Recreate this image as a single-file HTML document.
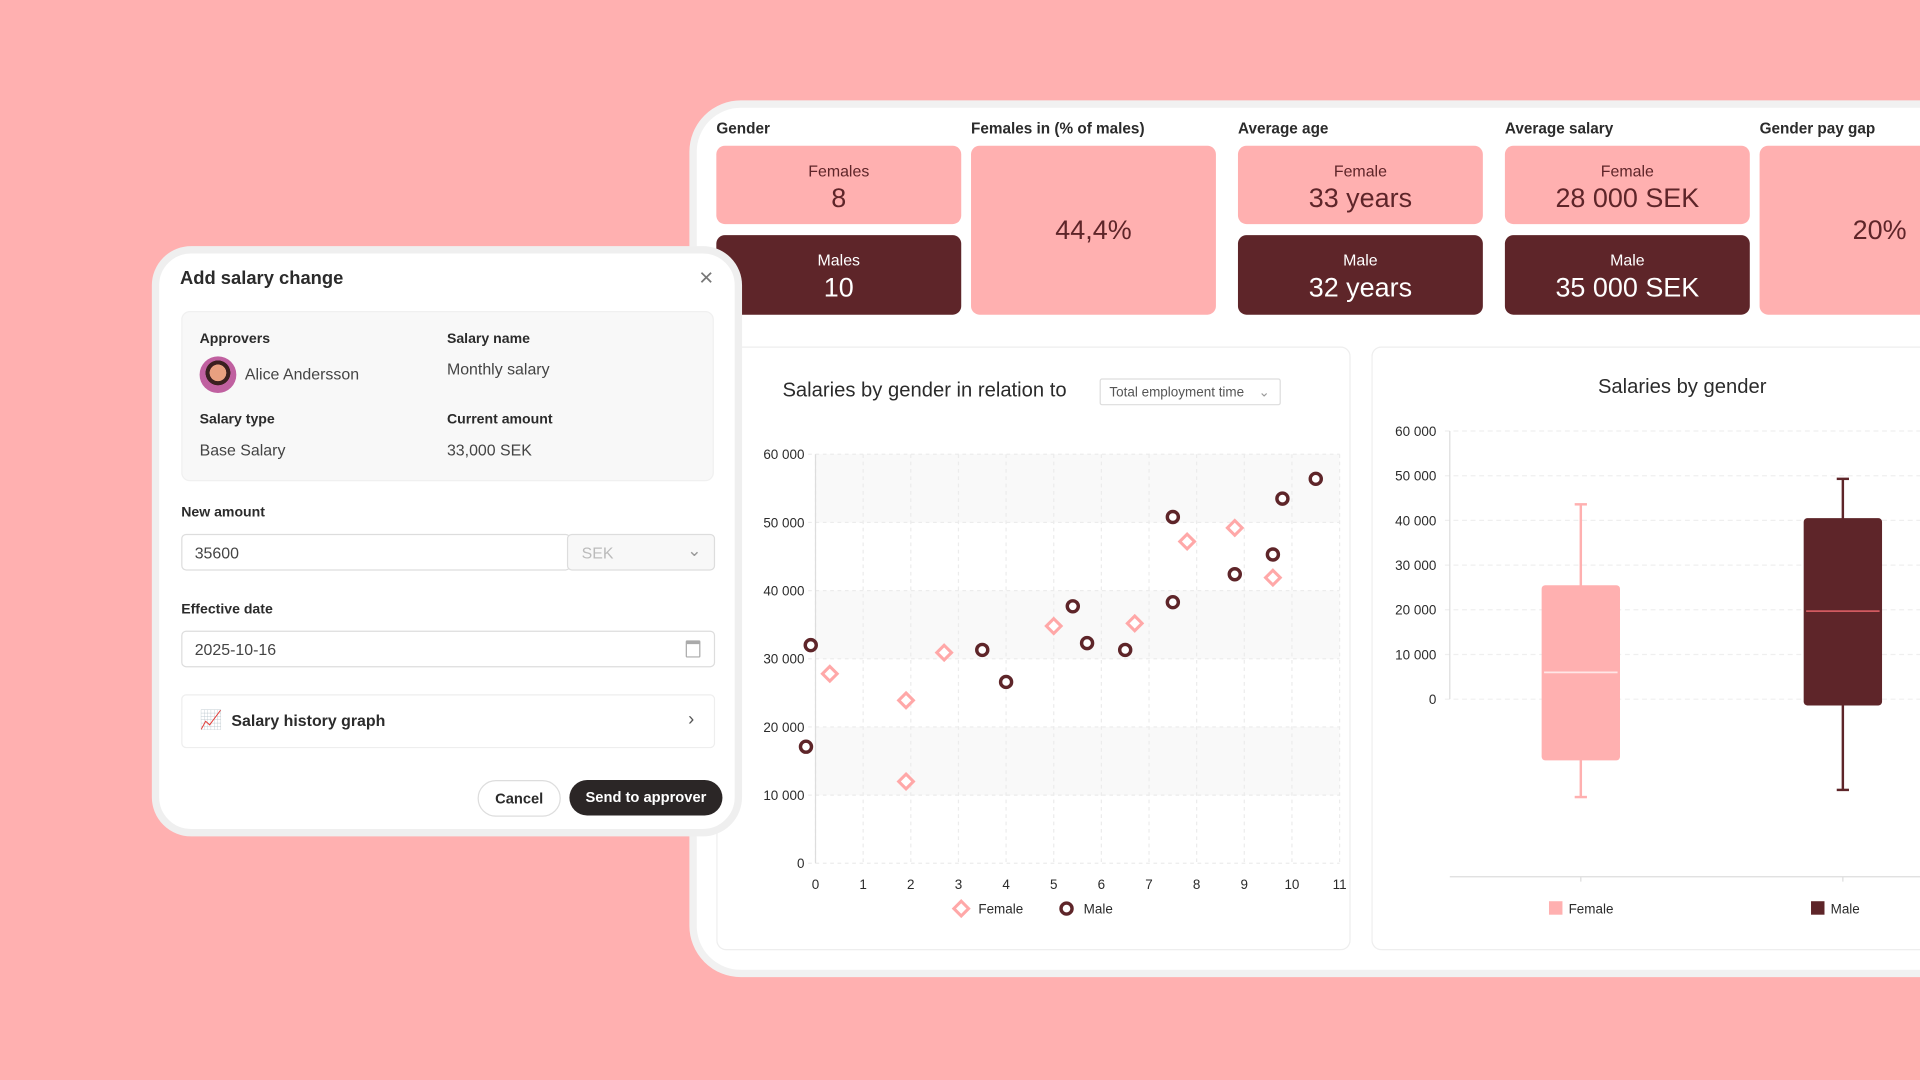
<!DOCTYPE html>
<html><head><meta charset="utf-8">
<style>
html,body{margin:0;padding:0;width:1920px;height:1080px;overflow:hidden;background:#ffb0b0;font-family:"Liberation Sans",sans-serif;}
#wrap{position:absolute;left:0;top:0;width:1568px;height:882px;transform:scale(1.22449);transform-origin:0 0;}
.abs{position:absolute;}
.hdr{position:absolute;top:98px;font-size:12.5px;font-weight:bold;color:#2b2b2b;}
.card{position:absolute;border-radius:7px;text-align:center;}
.pk{background:#ffb0b0;color:#5e2529;}
.dk{background:#5e2529;color:#fff;}
.card .l{font-size:13px;margin-top:13px;}
.card .v{font-size:22px;margin-top:2px;}
.lbl{position:absolute;font-size:11.5px;font-weight:bold;color:#2b2b2b;}
.val{position:absolute;font-size:13px;color:#444;}
.inp{position:absolute;border:1px solid #ddd;border-radius:4px;background:#fff;}
</style></head><body>
<div id="wrap">
<div class="abs" style="left:563px;top:82px;width:1060px;height:704px;background:#fff;border:6px solid #f1f1f1;border-radius:42px;"></div>
<div class="hdr" style="left:585px;">Gender</div>
<div class="hdr" style="left:793px;">Females in (% of males)</div>
<div class="hdr" style="left:1011px;">Average age</div>
<div class="hdr" style="left:1229px;">Average salary</div>
<div class="hdr" style="left:1437px;">Gender pay gap</div>

<div class="card pk" style="left:585px;top:119px;width:200px;height:64px;"><div class="l">Females</div><div class="v">8</div></div>
<div class="card dk" style="left:585px;top:192px;width:200px;height:65px;"><div class="l">Males</div><div class="v">10</div></div>
<div class="card pk" style="left:793px;top:119px;width:200px;height:138px;"><div class="v" style="margin-top:56px;">44,4%</div></div>
<div class="card pk" style="left:1011px;top:119px;width:200px;height:64px;"><div class="l">Female</div><div class="v">33 years</div></div>
<div class="card dk" style="left:1011px;top:192px;width:200px;height:65px;"><div class="l">Male</div><div class="v">32 years</div></div>
<div class="card pk" style="left:1229px;top:119px;width:200px;height:64px;"><div class="l">Female</div><div class="v">28 000 SEK</div></div>
<div class="card dk" style="left:1229px;top:192px;width:200px;height:65px;"><div class="l">Male</div><div class="v">35 000 SEK</div></div>
<div class="card pk" style="left:1437px;top:119px;width:200px;height:138px;text-align:left;"><div class="v" style="margin-top:56px;margin-left:76px;">20%</div></div>

<div class="abs" style="left:585px;top:283px;width:516px;height:491px;border:1px solid #eee;border-radius:8px;"></div>
<div class="abs" style="left:1120px;top:283px;width:500px;height:491px;border:1px solid #eee;border-radius:8px;"></div>
<div class="abs" style="left:639px;top:310px;font-size:16.5px;color:#2b2b2b;">Salaries by gender in relation to</div>
<div class="abs" style="left:898px;top:309px;width:148px;height:22px;border:1px solid #ddd;border-radius:2px;font-size:11px;color:#555;line-height:22px;padding-left:7px;box-sizing:border-box;">Total employment time <span style="position:absolute;right:8px;color:#999;">&#8964;</span></div>
<div class="abs" style="left:1305px;top:307px;font-size:16.5px;color:#2b2b2b;">Salaries by gender</div>

<svg id="chart" class="abs" style="left:0;top:0;" width="1568" height="882"></svg>

<div class="abs" style="left:124px;top:201px;width:470px;height:470px;background:#fff;border:6px solid #efefef;border-radius:32px;"></div>
<div class="abs" style="left:147px;top:219px;font-size:15px;font-weight:bold;color:#2b2b2b;">Add salary change</div>
<div class="abs" style="left:571px;top:216px;font-size:20px;color:#777;">&#215;</div>
<div class="abs" style="left:148px;top:254px;width:435px;height:139px;background:#f8f8f8;border-radius:7px;border:1px solid #f0f0f0;box-sizing:border-box;"></div>
<div class="lbl" style="left:163px;top:271px;">Approvers</div>
<div class="abs" style="left:163px;top:291px;width:30px;height:30px;border-radius:50%;background:radial-gradient(circle at 50% 45%,#e8a080 0 30%,#3a2020 31% 45%,#c060a0 46%);"></div>
<div class="val" style="left:200px;top:298px;">Alice Andersson</div>
<div class="lbl" style="left:365px;top:271px;">Salary name</div>
<div class="val" style="left:365px;top:294px;">Monthly salary</div>
<div class="lbl" style="left:163px;top:337px;">Salary type</div>
<div class="val" style="left:163px;top:360px;">Base Salary</div>
<div class="lbl" style="left:365px;top:337px;">Current amount</div>
<div class="val" style="left:365px;top:360px;">33,000 SEK</div>
<div class="lbl" style="left:148px;top:413px;">New amount</div>
<div class="inp" style="left:148px;top:436px;width:316px;height:28px;"><span class="val" style="left:10px;top:7px;">35600</span></div>
<div class="inp" style="left:463px;top:436px;width:119px;height:28px;background:#f8f8f8;"><span class="val" style="left:11px;top:7px;color:#bbb;">SEK</span><span class="abs" style="right:10px;top:4px;color:#999;font-size:14px;">&#8964;</span></div>
<div class="lbl" style="left:148px;top:492px;">Effective date</div>
<div class="inp" style="left:148px;top:515px;width:434px;height:28px;"><span class="val" style="left:10px;top:7px;">2025-10-16</span><span class="abs" style="right:11px;top:7px;width:10px;height:10px;border:1px solid #aaa;border-top-width:3px;border-radius:1px;"></span></div>
<div class="inp" style="left:148px;top:567px;width:434px;height:42px;border-color:#eee;"><span class="abs" style="left:14px;top:11px;font-size:15px;color:#c04060;">&#128200;</span><span class="abs" style="left:40px;top:13px;font-size:13px;font-weight:bold;color:#2b2b2b;">Salary history graph</span><span class="abs" style="right:16px;top:11px;font-size:15px;color:#555;">&#8250;</span></div>
<div class="abs" style="left:390px;top:637px;width:66px;height:28px;border:1px solid #ddd;border-radius:15px;font-size:12px;font-weight:bold;color:#2b2b2b;text-align:center;line-height:28px;">Cancel</div>
<div class="abs" style="left:465px;top:637px;width:125px;height:29px;background:#2b2626;border-radius:15px;font-size:12px;font-weight:bold;color:#fff;text-align:center;line-height:29px;">Send to approver</div>
</div>

<script>
const maleX = [-0.1, -0.2, 3.5, 4.0, 5.4, 5.7, 6.5, 7.5, 7.5, 8.8, 9.8, 9.6, 10.5];
const maleY = [32000, 17100, 31300, 26600, 37700, 32300, 31300, 50800, 38300, 42400, 53500, 45300, 56400];
const femaleX = [0.3, 1.9, 1.9, 2.7, 5.0, 6.7, 7.8, 8.8, 9.6];
const femaleY = [27800, 23900, 12000, 30900, 34800, 35200, 47200, 49200, 41900];
const xTicks = [0,1,2,3,4,5,6,7,8,9,10,11];
const yTicks = [0,10000,20000,30000,40000,50000,60000];
const boxGroups = ["Female","Male"];
const boxMin = [-21900, -20300];
const boxQ1 = [-13700, -1400];
const boxMedian = [6000, 19700];
const boxQ3 = [25500, 40500];
const boxMax = [43600, 49300];
const boxColors = ["#ffb0b0","#5e2529"];
const boxMedColors = ["#ffe6e6","#d05a60"];

const svg = document.getElementById('chart');
const NS = 'http://www.w3.org/2000/svg';
function mk(tag, attrs, parent){const e=document.createElementNS(NS,tag);for(const k in attrs)e.setAttribute(k,attrs[k]);(parent||svg).appendChild(e);return e;}
const fmt = v => v===0?'0':(v/1000)+' 000';

const sx = v => 666 + v*(1094-666)/11;
const sy = v => 705 - v*(705-371)/60000;
for(let i=0;i<yTicks.length-1;i++){
  if(i%2===1){ const b=mk('rect',{x:666,y:sy(yTicks[i+1]),width:sx(11)-666,height:sy(yTicks[i])-sy(yTicks[i+1]),fill:'#f9f9f9'});
  
   }
}
xTicks.forEach(t=>{
  const g=mk('line',{x1:sx(t),x2:sx(t),y1:sy(60000),y2:705,stroke:'#ececec','stroke-dasharray':'3,3'});
  
  
  const l=mk('text',{x:sx(t),y:726,'font-size':11,'text-anchor':'middle',fill:'#2b2b2b','font-family':'Liberation Sans'});
  l.textContent=t;
  
  
});
yTicks.forEach(t=>{
  const g=mk('line',{x1:660,x2:sx(11),y1:sy(t),y2:sy(t),stroke:'#ececec','stroke-dasharray':'3,3'});
  
  
  const l=mk('text',{x:657,y:sy(t)+4,'font-size':11,'text-anchor':'end',fill:'#2b2b2b','font-family':'Liberation Sans'});
  l.textContent=fmt(t);
  
  
});
const ax=mk('line',{x1:666,x2:666,y1:sy(60000),y2:705,stroke:'#ddd'});


femaleX.forEach((x,i)=>{
  const cx=sx(x), cy=sy(femaleY[i]);
  const p=mk('polygon',{points:`${cx},${cy-6} ${cx+6},${cy} ${cx},${cy+6} ${cx-6},${cy}`,fill:'#fff',stroke:'#ffa8a8','stroke-width':2.5});
  
  
});
maleX.forEach((x,i)=>{
  const c=mk('circle',{cx:sx(x),cy:sy(maleY[i]),r:4.5,fill:'#fff',stroke:'#5e2529','stroke-width':2.8});
  
  
});
const lf=mk('polygon',{points:'785,736 791,742 785,748 779,742',fill:'#fff',stroke:'#ffa8a8','stroke-width':2.5});


const lft=mk('text',{x:799,y:746,'font-size':11,fill:'#2b2b2b','font-family':'Liberation Sans'});lft.textContent='Female';


const lm=mk('circle',{cx:871,cy:742,r:4.5,fill:'#fff',stroke:'#5e2529','stroke-width':2.8});


const lmt=mk('text',{x:885,y:746,'font-size':11,fill:'#2b2b2b','font-family':'Liberation Sans'});lmt.textContent='Male';



const by = v => 571 - v*(571-352)/60000;
const bx = i => 1291 + i*214;
yTicks.forEach(t=>{
  const g=mk('line',{x1:1180,x2:1568,y1:by(t),y2:by(t),stroke:'#efefef','stroke-dasharray':'4,3'});
  
  
  const l=mk('text',{x:1173,y:by(t)+4,'font-size':11,'text-anchor':'end',fill:'#2b2b2b','font-family':'Liberation Sans'});
  l.textContent=fmt(t);
  
  
});
const bax=mk('line',{x1:1184,x2:1184,y1:by(60000),y2:by(0),stroke:'#ddd'});


const bxa=mk('line',{x1:1184,x2:1568,y1:716,y2:716,stroke:'#ddd'});


boxGroups.forEach((g,i)=>{
  const c=bx(i);
  const w=mk('line',{x1:c,x2:c,y1:by(boxMax[i]),y2:by(boxMin[i]),stroke:boxColors[i],'stroke-width':2});
  
  
  [boxMax[i],boxMin[i]].forEach(v=>{
    const cap=mk('line',{x1:c-5,x2:c+5,y1:by(v),y2:by(v),stroke:boxColors[i],'stroke-width':2});
    
    
  });
  const r=mk('rect',{x:c-32,y:by(boxQ3[i]),width:64,height:by(boxQ1[i])-by(boxQ3[i]),rx:3,fill:boxColors[i]});
  
  
  const m=mk('line',{x1:c-30,x2:c+30,y1:by(boxMedian[i]),y2:by(boxMedian[i]),stroke:boxMedColors[i],'stroke-width':1.5});
  
  
  const tk=mk('line',{x1:c,x2:c,y1:716,y2:720,stroke:'#ddd'});
  
  
  const ls=mk('rect',{x:c-26,y:736,width:11,height:11,fill:boxColors[i]});
  
  
  const lt=mk('text',{x:c-10,y:746,'font-size':11,fill:'#2b2b2b','font-family':'Liberation Sans'});lt.textContent=g;
  
  
});
</script>
</body></html>
